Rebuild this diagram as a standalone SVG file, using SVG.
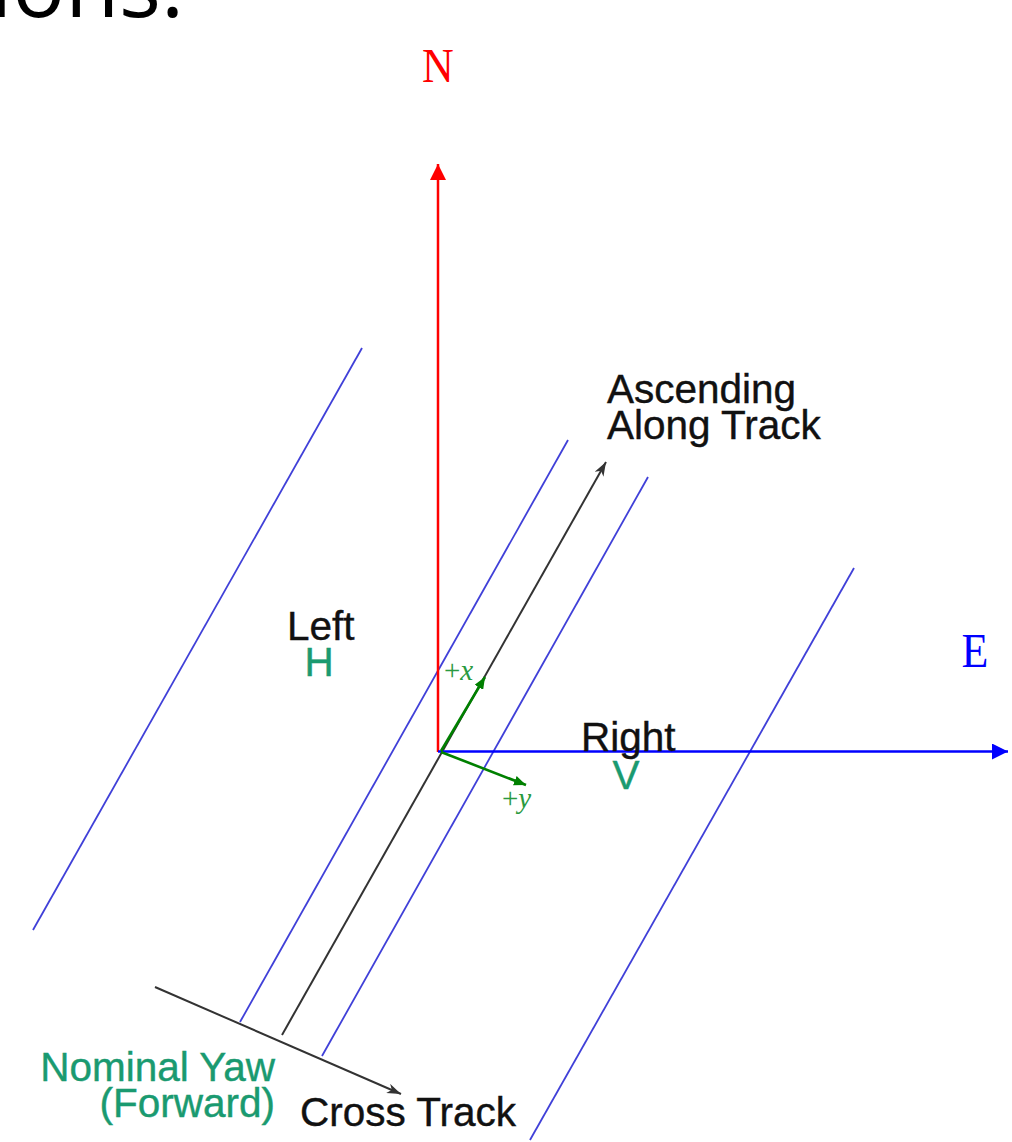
<svg xmlns="http://www.w3.org/2000/svg" width="1012" height="1142" viewBox="0 0 1012 1142">
<style>
.lbl{font-family:"Liberation Sans",Arial,sans-serif;font-size:40.5px;fill:#111;stroke:#111;stroke-width:0.4}
.grn{font-family:"Liberation Sans",Arial,sans-serif;font-size:40.5px;fill:#1a9a70;stroke:#1a9a70;stroke-width:0.4}
.ser{font-family:"Liberation Serif","Times New Roman",serif}
.trk{stroke:#4040d8;stroke-width:1.8;fill:none}
.blk{stroke:#333;stroke-width:2;fill:none}
</style>
<defs>
<marker id="mRed" viewBox="0 0 16 16" refX="16" refY="8" markerWidth="16" markerHeight="16" markerUnits="userSpaceOnUse" orient="auto"><path d="M0,0 L16,8 L0,16 Z" fill="#ff0000"/></marker>
<marker id="mBlue" viewBox="0 0 16 16" refX="16" refY="8" markerWidth="16" markerHeight="16" markerUnits="userSpaceOnUse" orient="auto"><path d="M0,0 L16,8 L0,16 Z" fill="#0000ff"/></marker>
<marker id="mBlk" viewBox="0 0 14 10" refX="14" refY="5" markerWidth="14" markerHeight="10" markerUnits="userSpaceOnUse" orient="auto"><path d="M0,0 L14,5 L0,10 L4,5 Z" fill="#333"/></marker>
<marker id="mGrn" viewBox="0 0 12 10" refX="12" refY="5" markerWidth="12" markerHeight="10" markerUnits="userSpaceOnUse" orient="auto"><path d="M0,0 L12,5 L0,10 Z" fill="#008000"/></marker>
</defs>
<rect width="1012" height="1142" fill="#fff"/>
<text x="-10" y="17" style="font-family:'Open Sans','Noto Sans',sans-serif;font-size:88px;fill:#000">ions:</text>
<g id="connectors">
<line class="trk" x1="33" y1="930" x2="362" y2="348"/>
<line class="trk" x1="240" y1="1022" x2="568" y2="440"/>
<line class="trk" x1="322" y1="1056" x2="648" y2="477"/>
<line class="trk" x1="530" y1="1140" x2="854" y2="568"/>
<line id="alongTrack" class="blk" x1="282" y1="1035" x2="606" y2="462" marker-end="url(#mBlk)"/>
<line id="crossTrack" class="blk" x1="155" y1="987" x2="401" y2="1094" marker-end="url(#mBlk)"/>
<line id="north" x1="438" y1="752" x2="438" y2="164" stroke="#ff0000" stroke-width="2.5" marker-end="url(#mRed)"/>
<line id="east" x1="438" y1="751.5" x2="1008" y2="751.5" stroke="#0000ff" stroke-width="2.5" marker-end="url(#mBlue)"/>
<line id="plusX" x1="441" y1="751" x2="485" y2="677" stroke="#008000" stroke-width="2.6" marker-end="url(#mGrn)"/>
<line id="plusY" x1="441" y1="752" x2="526" y2="785" stroke="#008000" stroke-width="2.6" marker-end="url(#mGrn)"/>
</g>
<g id="N"><text class="ser" transform="translate(438,82) scale(1,1.12)" text-anchor="middle" font-size="44" fill="#ff0000">N</text></g>
<g id="E"><text class="ser" transform="translate(975,667) scale(1,1.12)" text-anchor="middle" font-size="44" fill="#0000ff">E</text></g>
<g id="ascending"><text class="lbl" x="607" y="403">Ascending</text><text class="lbl" x="607" y="439">Along Track</text></g>
<g id="left"><text class="lbl" x="287" y="640">Left</text><text class="grn" x="319" y="676" text-anchor="middle">H</text></g>
<g id="right"><text class="lbl" x="581" y="751">Right</text><text class="grn" x="626" y="789" text-anchor="middle">V</text></g>
<g id="nominal"><text class="grn" x="275" y="1081" text-anchor="end">Nominal Yaw</text><text class="grn" x="275" y="1117" text-anchor="end">(Forward)</text></g>
<g id="cross"><text class="lbl" x="300" y="1126">Cross Track</text></g>
<g id="px"><text class="ser" x="444" y="680" font-size="29" fill="#2a9a40">+<tspan font-style="italic">x</tspan></text></g>
<g id="py"><text class="ser" x="502" y="808" font-size="29" fill="#2a9a40">+<tspan font-style="italic">y</tspan></text></g>
</svg>
